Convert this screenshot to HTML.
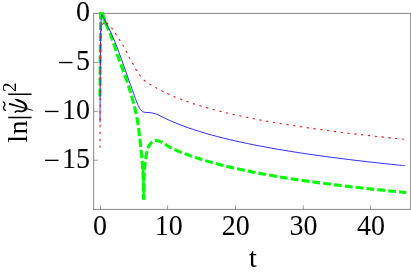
<!DOCTYPE html>
<html><head><meta charset="utf-8"><title>plot</title>
<style>html,body{margin:0;padding:0;background:#fff;}svg{display:block;}text{font-family:"Liberation Serif",serif;fill:#000;}</style></head>
<body>
<svg style="will-change:transform" width="411" height="273" viewBox="0 0 411 273">
<rect width="411" height="273" fill="#fff"/>
<path d="M93.2 13.4H411M93.2 209.4H411M93.65 13V209.8M410.65 13V209.8" fill="none" stroke="#787878" stroke-width="0.9"/>
<path d="M100.50 209.4 V205.4 M167.60 209.4 V205.4 M235.50 209.4 V205.4 M303.30 209.4 V205.4 M370.50 209.4 V205.4 M93.7 62.45 H98.0 M93.7 111.35 H98.0 M93.7 160.25 H98.0" stroke="#7c7c7c" stroke-width="0.75" fill="none"/>
<path id="g1a" d="M100.00 96.60 C100.02 93.83 100.07 86.10 100.10 80.00 C100.13 73.90 100.16 65.83 100.20 60.00 C100.24 54.17 100.30 49.50 100.35 45.00 C100.40 40.50 100.46 36.50 100.50 33.00 C100.54 29.50 100.58 26.67 100.60 24.00 C100.62 21.33 100.60 18.73 100.60 17.00 C100.60 15.27 100.60 14.17 100.60 13.60" fill="none" stroke="#00ff00" stroke-width="3.1" stroke-dasharray="8.1 2.95"/>
<path id="g1b" d="M100.6 13.6L102.4 13.6 C102.55 14.10 102.85 15.25 103.30 16.60 C103.75 17.95 103.88 18.65 105.10 21.70 C106.32 24.75 109.23 31.43 110.60 34.90 C111.97 38.37 111.87 38.30 113.30 42.50 C114.73 46.70 117.10 54.18 119.20 60.10 C121.30 66.02 123.93 72.33 125.90 78.00 C127.87 83.67 129.55 89.22 131.00 94.10 C132.45 98.98 133.63 103.52 134.60 107.30 C135.57 111.08 136.17 113.60 136.80 116.80 C137.43 120.00 137.92 123.10 138.40 126.50 C138.88 129.90 139.28 133.55 139.70 137.20 C140.12 140.85 140.50 144.47 140.90 148.40 C141.30 152.33 141.77 156.67 142.10 160.80 C142.43 164.93 142.68 169.07 142.90 173.20 C143.12 177.33 143.28 181.22 143.40 185.60 C143.52 189.98 143.57 197.18 143.60 199.50" fill="none" stroke="#00ff00" stroke-width="3.1" stroke-dasharray="8.1 2.95" stroke-dashoffset="10.52"/>
<path id="gcap" d="M100.6 16L100.6 13.6L102.4 13.6L103.3 16.6L105.1 21.7L106.2 24.5" fill="none" stroke="#00ff00" stroke-width="3.1" stroke-linejoin="miter"/>
<path d="M143.2 168L143.75 199.5" fill="none" stroke="#00ff00" stroke-width="2.4"/>
<path id="g2" d="M143.90 199.50 C143.93 195.95 143.98 183.40 144.10 178.20 C144.22 173.00 144.38 171.20 144.60 168.30 C144.82 165.40 145.07 163.28 145.40 160.80 C145.73 158.32 146.12 155.67 146.60 153.40 C147.08 151.13 147.47 149.07 148.30 147.20 C149.13 145.33 150.65 143.25 151.60 142.20 C152.55 141.15 153.18 141.18 154.00 140.90 C154.82 140.62 155.58 140.45 156.50 140.50 C157.42 140.55 158.32 140.75 159.50 141.20 C160.68 141.65 162.35 142.48 163.60 143.20 C164.85 143.92 165.77 144.71 167.00 145.50 C168.23 146.29 169.33 147.10 171.00 147.95 C172.67 148.80 175.00 149.77 177.00 150.62 C179.00 151.48 181.00 152.28 183.00 153.06 C185.00 153.85 187.00 154.59 189.00 155.31 C191.00 156.03 193.00 156.72 195.00 157.39 C197.00 158.05 199.00 158.69 201.00 159.32 C203.00 159.94 205.00 160.54 207.00 161.13 C209.00 161.71 211.00 162.27 213.00 162.82 C215.00 163.37 217.00 163.90 219.00 164.42 C221.00 164.94 223.00 165.45 225.00 165.94 C227.00 166.43 229.00 166.91 231.00 167.37 C233.00 167.84 235.00 168.29 237.00 168.74 C239.00 169.18 241.00 169.61 243.00 170.04 C245.00 170.46 247.00 170.88 249.00 171.28 C251.00 171.69 253.00 172.08 255.00 172.47 C257.00 172.86 259.00 173.24 261.00 173.61 C263.00 173.99 265.00 174.35 267.00 174.71 C269.00 175.07 271.00 175.42 273.00 175.77 C275.00 176.11 277.00 176.45 279.00 176.78 C281.00 177.12 283.00 177.44 285.00 177.76 C287.00 178.09 289.00 178.40 291.00 178.71 C293.00 179.02 295.00 179.33 297.00 179.63 C299.00 179.93 301.00 180.23 303.00 180.52 C305.00 180.81 307.00 181.09 309.00 181.38 C311.00 181.66 313.00 181.94 315.00 182.21 C317.00 182.49 319.00 182.76 321.00 183.02 C323.00 183.29 325.00 183.55 327.00 183.81 C329.00 184.07 331.00 184.32 333.00 184.57 C335.00 184.83 337.00 185.07 339.00 185.32 C341.00 185.57 343.00 185.81 345.00 186.05 C347.00 186.28 349.00 186.52 351.00 186.75 C353.00 186.99 355.00 187.22 357.00 187.44 C359.00 187.67 361.00 187.89 363.00 188.12 C365.00 188.34 367.00 188.56 369.00 188.77 C371.00 188.99 373.00 189.20 375.00 189.42 C377.00 189.63 379.00 189.84 381.00 190.04 C383.00 190.25 385.00 190.46 387.00 190.66 C389.00 190.86 391.00 191.06 393.00 191.26 C395.00 191.46 397.00 191.65 399.00 191.85 C401.00 192.04 403.80 192.31 405.00 192.42 C406.20 192.54 406.00 192.52 406.20 192.54" fill="none" stroke="#00ff00" stroke-width="3.1" stroke-dasharray="7.85 3.07" stroke-dashoffset="3.14"/>
<path d="M100.00 122.40 C100.02 118.67 100.07 107.07 100.10 100.00 C100.13 92.93 100.16 86.67 100.20 80.00 C100.24 73.33 100.30 65.83 100.35 60.00 C100.40 54.17 100.44 49.50 100.50 45.00 C100.56 40.50 100.62 36.83 100.70 33.00 C100.78 29.17 100.88 24.75 101.00 22.00 C101.12 19.25 101.27 17.73 101.40 16.50 C101.53 15.27 101.73 14.92 101.80 14.60 C102.00 14.97 102.27 15.37 103.00 16.80 C103.73 18.23 104.93 20.67 106.20 23.20 C107.47 25.73 109.10 28.78 110.60 32.00 C112.10 35.22 113.97 39.53 115.20 42.50 C116.43 45.47 116.73 46.38 118.00 49.80 C119.27 53.22 121.12 58.30 122.80 63.00 C124.48 67.70 126.62 73.80 128.10 78.00 C129.58 82.20 130.48 84.78 131.70 88.20 C132.92 91.62 134.30 95.57 135.40 98.50 C136.50 101.43 137.45 103.97 138.30 105.80 C139.15 107.63 139.77 108.52 140.50 109.50 C141.23 110.48 141.85 111.22 142.70 111.70 C143.55 112.18 144.33 112.23 145.60 112.40 C146.87 112.57 148.90 112.53 150.30 112.70 C151.70 112.87 152.75 113.07 154.00 113.40 C155.25 113.73 156.17 113.94 157.80 114.67 C159.43 115.39 161.80 116.76 163.80 117.74 C165.80 118.71 167.80 119.63 169.80 120.52 C171.80 121.41 173.80 122.26 175.80 123.07 C177.80 123.89 179.80 124.67 181.80 125.43 C183.80 126.18 185.80 126.91 187.80 127.61 C189.80 128.32 191.80 128.99 193.80 129.65 C195.80 130.31 197.80 130.94 199.80 131.56 C201.80 132.18 203.80 132.77 205.80 133.35 C207.80 133.94 209.80 134.50 211.80 135.05 C213.80 135.60 215.80 136.13 217.80 136.66 C219.80 137.18 221.80 137.68 223.80 138.18 C225.80 138.68 227.80 139.16 229.80 139.63 C231.80 140.11 233.80 140.57 235.80 141.02 C237.80 141.47 239.80 141.91 241.80 142.34 C243.80 142.78 245.80 143.20 247.80 143.61 C249.80 144.03 251.80 144.43 253.80 144.83 C255.80 145.23 257.80 145.62 259.80 146.00 C261.80 146.39 263.80 146.76 265.80 147.13 C267.80 147.50 269.80 147.86 271.80 148.22 C273.80 148.57 275.80 148.92 277.80 149.27 C279.80 149.61 281.80 149.95 283.80 150.28 C285.80 150.61 287.80 150.94 289.80 151.26 C291.80 151.58 293.80 151.90 295.80 152.21 C297.80 152.53 299.80 152.83 301.80 153.14 C303.80 153.44 305.80 153.74 307.80 154.03 C309.80 154.32 311.80 154.61 313.80 154.90 C315.80 155.19 317.80 155.47 319.80 155.74 C321.80 156.02 323.80 156.30 325.80 156.57 C327.80 156.84 329.80 157.10 331.80 157.37 C333.80 157.63 335.80 157.89 337.80 158.15 C339.80 158.40 341.80 158.66 343.80 158.91 C345.80 159.16 347.80 159.40 349.80 159.65 C351.80 159.89 353.80 160.13 355.80 160.37 C357.80 160.61 359.80 160.85 361.80 161.08 C363.80 161.31 365.80 161.54 367.80 161.77 C369.80 162.00 371.80 162.22 373.80 162.45 C375.80 162.67 377.80 162.89 379.80 163.11 C381.80 163.32 383.80 163.54 385.80 163.75 C387.80 163.97 389.80 164.18 391.80 164.39 C393.80 164.59 395.80 164.80 397.80 165.01 C399.80 165.21 402.57 165.49 403.80 165.61 C405.03 165.74 404.97 165.73 405.20 165.75" fill="none" stroke="#1818ff" stroke-width="0.9" stroke-linejoin="miter"/>
<path id="ra" d="M100.00 147.80 C100.02 143.17 100.07 127.97 100.10 120.00 C100.13 112.03 100.17 106.67 100.20 100.00 C100.23 93.33 100.27 86.67 100.30 80.00 C100.33 73.33 100.35 65.83 100.40 60.00 C100.45 54.17 100.52 49.17 100.60 45.00 C100.68 40.83 100.75 37.83 100.90 35.00 C101.05 32.17 101.22 29.78 101.50 28.00 C101.78 26.22 102.02 25.32 102.60 24.30 C103.18 23.28 104.60 22.30 105.00 21.90" fill="none" stroke="#ff1010" stroke-width="1.1" stroke-dasharray="2.3 4.55" stroke-dashoffset="0.05"/>
<path id="rb" d="M105.00 21.90 C105.42 22.17 106.35 22.43 107.50 23.50 C108.65 24.57 110.48 26.52 111.90 28.30 C113.32 30.08 114.70 32.25 116.00 34.20 C117.30 36.15 118.52 38.10 119.70 40.00 C120.88 41.90 121.97 43.58 123.10 45.60 C124.23 47.62 125.40 50.00 126.50 52.10 C127.60 54.20 128.60 56.20 129.70 58.20 C130.80 60.20 132.00 62.12 133.10 64.10 C134.20 66.08 135.15 68.20 136.30 70.10 C137.45 72.00 138.65 73.76 140.00 75.50 C141.35 77.24 142.67 79.04 144.40 80.54 C146.13 82.05 148.40 83.29 150.40 84.54 C152.40 85.80 154.40 86.95 156.40 88.07 C158.40 89.18 160.40 90.22 162.40 91.21 C164.40 92.21 166.40 93.15 168.40 94.06 C170.40 94.97 172.40 95.83 174.40 96.66 C176.40 97.49 178.40 98.28 180.40 99.04 C182.40 99.81 184.40 100.54 186.40 101.25 C188.40 101.96 190.40 102.64 192.40 103.31 C194.40 103.97 196.40 104.61 198.40 105.23 C200.40 105.85 202.40 106.45 204.40 107.03 C206.40 107.62 208.40 108.18 210.40 108.73 C212.40 109.28 214.40 109.82 216.40 110.34 C218.40 110.86 220.40 111.37 222.40 111.87 C224.40 112.36 226.40 112.84 228.40 113.32 C230.40 113.79 232.40 114.25 234.40 114.70 C236.40 115.15 238.40 115.59 240.40 116.02 C242.40 116.45 244.40 116.87 246.40 117.29 C248.40 117.70 250.40 118.10 252.40 118.50 C254.40 118.89 256.40 119.28 258.40 119.66 C260.40 120.04 262.40 120.42 264.40 120.78 C266.40 121.15 268.40 121.51 270.40 121.86 C272.40 122.22 274.40 122.56 276.40 122.91 C278.40 123.25 280.40 123.58 282.40 123.91 C284.40 124.24 286.40 124.57 288.40 124.89 C290.40 125.21 292.40 125.52 294.40 125.83 C296.40 126.14 298.40 126.44 300.40 126.74 C302.40 127.04 304.40 127.34 306.40 127.63 C308.40 127.92 310.40 128.21 312.40 128.49 C314.40 128.77 316.40 129.05 318.40 129.32 C320.40 129.60 322.40 129.87 324.40 130.14 C326.40 130.41 328.40 130.67 330.40 130.93 C332.40 131.19 334.40 131.45 336.40 131.70 C338.40 131.95 340.40 132.20 342.40 132.45 C344.40 132.70 346.40 132.94 348.40 133.18 C350.40 133.42 352.40 133.66 354.40 133.90 C356.40 134.13 358.40 134.37 360.40 134.60 C362.40 134.83 364.40 135.05 366.40 135.28 C368.40 135.50 370.40 135.73 372.40 135.95 C374.40 136.16 376.40 136.38 378.40 136.60 C380.40 136.81 382.40 137.02 384.40 137.23 C386.40 137.45 388.40 137.65 390.40 137.86 C392.40 138.07 394.40 138.27 396.40 138.47 C398.40 138.67 400.93 138.92 402.40 139.07 C403.87 139.22 404.73 139.30 405.20 139.35" fill="none" stroke="#ff1010" stroke-width="1.1" stroke-dasharray="2.3 4.55" stroke-dashoffset="5.13"/>
<text transform="translate(90.0 21.05) scale(1 1.05)" font-size="28" text-anchor="end">0</text>
<text transform="translate(90.0 69.95) scale(1 1.05)" font-size="28" text-anchor="end">5</text>
<path d="M59.0 62.55h13.5" stroke="#000" stroke-width="1.35" fill="none"/>
<text transform="translate(90.0 118.85) scale(1 1.05)" font-size="28" text-anchor="end">10</text>
<path d="M45.0 111.45h13.5" stroke="#000" stroke-width="1.35" fill="none"/>
<text transform="translate(90.0 167.75) scale(1 1.05)" font-size="28" text-anchor="end">15</text>
<path d="M45.0 160.35h13.5" stroke="#000" stroke-width="1.35" fill="none"/>
<text transform="translate(100.00 235) scale(1 1.05)" font-size="28" text-anchor="middle">0</text>
<text transform="translate(168.80 235) scale(1 1.05)" font-size="28" text-anchor="middle">10</text>
<text transform="translate(235.80 235) scale(1 1.05)" font-size="28" text-anchor="middle">20</text>
<text transform="translate(303.40 235) scale(1 1.05)" font-size="28" text-anchor="middle">30</text>
<text transform="translate(371.00 235) scale(1 1.05)" font-size="28" text-anchor="middle">40</text>
<text x="252.9" y="267" font-size="28" text-anchor="middle">t</text>
<g transform="translate(27 141.8) rotate(-90)">
<text x="-0.9" y="0" font-size="28" letter-spacing="0.5">ln</text>
<path d="M24.2 -18.8V4.6M47.6 -18.8V4.6" stroke="#000" stroke-width="1.5" fill="none"/>
<path d="M43.14 -12.66 C43.09 -12.23 43.00 -10.96 42.83 -10.10 C42.66 -9.24 42.39 -8.35 42.10 -7.50 C41.81 -6.65 41.53 -5.85 41.10 -5.00 C40.67 -4.15 40.15 -3.14 39.55 -2.40 C38.95 -1.66 38.27 -1.03 37.50 -0.57 C36.73 -0.11 35.75 0.29 34.90 0.36 C34.05 0.43 33.13 0.22 32.40 -0.16 C31.67 -0.54 30.97 -1.09 30.50 -1.90 C30.03 -2.71 29.70 -3.98 29.60 -5.00 C29.50 -6.02 29.83 -7.15 29.90 -8.00 C29.97 -8.85 30.17 -9.52 30.00 -10.10 C29.83 -10.68 29.03 -11.10 28.90 -11.50 C28.77 -11.90 29.15 -12.33 29.20 -12.50 L30.00 -12.60 C30.14 -12.47 30.60 -12.22 30.85 -11.80 C31.10 -11.38 31.41 -10.82 31.50 -10.10 C31.59 -9.38 31.41 -8.35 31.36 -7.50 C31.31 -6.65 31.06 -5.75 31.20 -5.00 C31.34 -4.25 31.75 -3.48 32.20 -3.00 C32.65 -2.52 33.27 -2.20 33.90 -2.10 C34.53 -2.00 35.32 -2.09 36.00 -2.40 C36.68 -2.71 37.46 -3.27 38.00 -3.95 C38.54 -4.63 38.87 -5.65 39.25 -6.50 C39.63 -7.35 39.91 -8.30 40.30 -9.07 C40.69 -9.84 41.13 -10.50 41.60 -11.10 C42.07 -11.70 42.88 -12.40 43.14 -12.66Z" fill="#000"/>
<path d="M37.0 -18.2 L39.0 -17.8 L31.8 5.9 L31.05 5.7 Z" fill="#000"/>
<path d="M31.4 -21.6 C32.5 -23.8 34.5 -23.9 35.7 -22.8 S38.6 -21.8 39.9 -23.7" fill="none" stroke="#000" stroke-width="1.35" stroke-linecap="round"/>
<text x="49.8" y="-11.2" font-size="19">2</text>
</g>
</svg></body></html>
